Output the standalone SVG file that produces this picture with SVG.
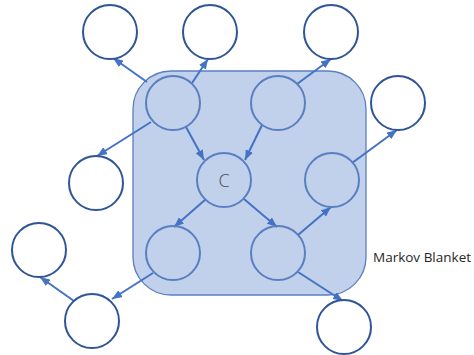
<svg xmlns="http://www.w3.org/2000/svg" width="474" height="355" viewBox="0 0 474 355">
  <style>
    .outer { fill: #ffffff; stroke: #2f5597; stroke-width: 2; }
    .inner { fill: none; stroke: #5a7fc1; stroke-width: 2; }
    .edge { stroke: #4472c4; stroke-width: 2; fill: none; marker-end: url(#arrow); }
    .label { font-family: "Open Sans", "Noto Sans", "DejaVu Sans", sans-serif; fill: #262626; }
  </style>
  <defs>
    <marker id="arrow" markerUnits="userSpaceOnUse" markerWidth="10" markerHeight="8" refX="10" refY="4" orient="auto">
      <path d="M0,0 L10,4 L0,8 z" fill="#4472c4"/>
    </marker>
  </defs>
  <rect width="474" height="355" fill="#ffffff"/>

  <!-- Markov blanket region -->
  <g id="blanket">
    <rect x="133" y="71" width="233" height="224" rx="38" ry="38" fill="#c1d0eb" stroke="#5b7fc0" stroke-width="1.3"/>
    <text class="label" x="373" y="262" font-size="13.5">Markov Blanket</text>
  </g>

  <!-- connectors -->
  <g id="edges">
    <line class="edge" x1="147" y1="82" x2="113" y2="58"/>
    <line class="edge" x1="192" y1="83" x2="208" y2="59"/>
    <line class="edge" x1="151" y1="122" x2="97" y2="156"/>
    <line class="edge" x1="186" y1="127" x2="204" y2="160"/>
    <line class="edge" x1="262" y1="125" x2="245" y2="160"/>
    <line class="edge" x1="297" y1="84" x2="331" y2="59"/>
    <line class="edge" x1="352" y1="163" x2="397" y2="130"/>
    <line class="edge" x1="206" y1="199" x2="174" y2="227"/>
    <line class="edge" x1="244" y1="199" x2="277" y2="227"/>
    <line class="edge" x1="298" y1="235" x2="331" y2="207"/>
    <line class="edge" x1="298" y1="272" x2="343" y2="301"/>
    <line class="edge" x1="153" y1="273" x2="112" y2="299"/>
    <line class="edge" x1="74" y1="301" x2="40" y2="277"/>
  </g>

  <!-- nodes outside the blanket -->
  <g id="a1"><circle class="outer" cx="110" cy="32" r="27"/></g>
  <g id="a2"><circle class="outer" cx="210" cy="32" r="27"/></g>
  <g id="a3"><circle class="outer" cx="331" cy="32" r="27"/></g>
  <g id="a4"><circle class="outer" cx="398" cy="103" r="27"/></g>
  <g id="l1"><circle class="outer" cx="96" cy="183" r="27"/></g>
  <g id="fl"><circle class="outer" cx="39" cy="250" r="27"/></g>
  <g id="bl2"><circle class="outer" cx="92" cy="321" r="27"/></g>
  <g id="bro"><circle class="outer" cx="344" cy="327" r="27"/></g>

  <!-- nodes inside the blanket -->
  <g id="p1"><circle class="inner" cx="173" cy="103" r="27"/></g>
  <g id="p2"><circle class="inner" cx="278" cy="103" r="27"/></g>
  <g id="c">
    <circle class="inner" cx="224" cy="180" r="27"/>
    <text x="224" y="187" font-family="'Open Sans', 'Noto Sans', sans-serif" font-size="18" font-weight="300" text-anchor="middle" fill="#4d4d4d">C</text>
  </g>
  <g id="r1"><circle class="inner" cx="332" cy="180" r="27"/></g>
  <g id="bl"><circle class="inner" cx="173" cy="253" r="27"/></g>
  <g id="br"><circle class="inner" cx="278" cy="253" r="27"/></g>
</svg>
